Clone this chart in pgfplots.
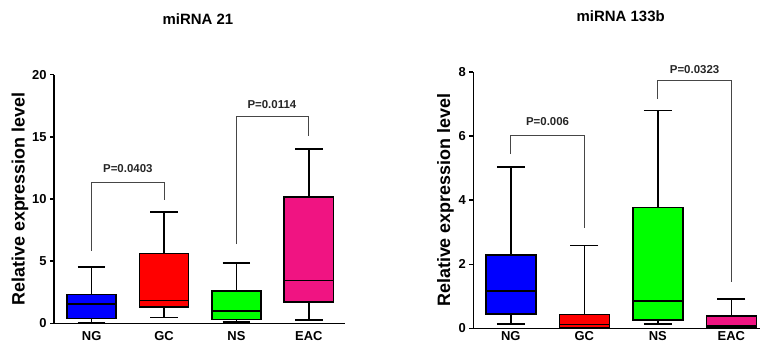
\documentclass[border=0pt]{standalone}
\usepackage{fontspec}
\setmainfont{Liberation Sans}
\usepackage{pgfplots}
\pgfplotsset{compat=1.18}
\usepgfplotslibrary{statistics}
\definecolor{cNG}{RGB}{0,0,255}
\definecolor{cGC}{RGB}{255,0,0}
\definecolor{cNS}{RGB}{0,255,0}
\definecolor{cEAC}{RGB}{240,20,130}
\definecolor{brk}{RGB}{70,70,70}
\tikzset{
  bx/.style={draw=black, line width=1.6bp, fill=#1, solid},
  br/.style={brk, line width=0.8bp},
  pl/.style={font=\fontsize{11.5}{11.5}\selectfont\bfseries, text=black!85},
}
\pgfplotsset{
  mybox/.style={
    scale only axis,
    axis x line*=bottom, axis y line*=left,
    axis line style={line width=1.6bp,-},
    xtick={0,1,2,3}, xticklabels={NG,GC,NS,EAC},
    x tick style={draw=none},
    y tick style={line width=1.4bp,black},
    tick align=outside, major tick length=4bp,
    ticklabel style={font=\fontsize{13}{13}\selectfont\bfseries},
    /pgf/number format/assume math mode=true,
    ymin=0, clip=false,
    boxplot/draw direction=y,
    boxplot/box extend=0.68,
    boxplot/whisker extend=0.38,
    ylabel={Relative expression level},
    ylabel style={font=\fontsize{18}{18}\selectfont\bfseries, anchor=center},
  },
}
\begin{document}
\begin{tikzpicture}
\path[use as bounding box] (0,0) rectangle (760bp,-352bp);
\node[font=\fontsize{15}{15}\selectfont\bfseries] at (198bp,-19bp) {miRNA 21};
\node[font=\fontsize{15}{15}\selectfont\bfseries] at (620.7bp,-15.7bp) {miRNA 133b};
% left
\begin{axis}[mybox, at={(54bp,-323.3bp)}, anchor=south west,
  width=291bp, height=248.6bp, xmin=-0.52, xmax=3.5, ymax=20,
  ytick={0,5,10,15,20},
  ylabel style={at={(axis description cs:-0.117,0.5)}},
  xticklabel style={yshift=-1bp}]
\addplot[bx=cNG, boxplot prepared={lower whisker=0.05, lower quartile=0.4, median=1.53, upper quartile=2.33, upper whisker=4.55, draw position=0}] coordinates {};
\addplot[bx=cGC, boxplot prepared={lower whisker=0.48, lower quartile=1.31, median=1.82, upper quartile=5.63, upper whisker=8.95, draw position=1}] coordinates {};
\addplot[bx=cNS, boxplot prepared={lower whisker=0.1, lower quartile=0.32, median=1.01, upper quartile=2.62, upper whisker=4.83, draw position=2}] coordinates {};
\addplot[bx=cEAC, boxplot prepared={lower whisker=0.27, lower quartile=1.69, median=3.43, upper quartile=10.14, upper whisker=14.02, draw position=3}] coordinates {};
\addplot[br] coordinates {(0,5.84) (0,11.3) (1,11.3) (1,9.92)};
\addplot[br] coordinates {(2,6.36) (2,16.68) (3,16.68) (3,15.1)};
\node[pl] at (axis cs:0.5,12.41) {P=0.0403};
\node[pl] at (axis cs:2.49,17.56) {P=0.0114};
\end{axis}
% right
\begin{axis}[mybox, at={(473.3bp,-328.3bp)}, anchor=south west,
  width=286.7bp, height=256.3bp, xmin=-0.51, xmax=3.39, ymax=8,
  ytick={0,2,4,6,8},
  ylabel style={at={(axis description cs:-0.097,0.5)}},
  xticklabel style={yshift=4bp}]
\addplot[bx=cNG, boxplot prepared={lower whisker=0.135, lower quartile=0.45, median=1.16, upper quartile=2.28, upper whisker=5.03, draw position=0}] coordinates {};
\addplot[bx=cGC, boxplot prepared={lower whisker=0.0, lower quartile=0.03, median=0.12, upper quartile=0.43, upper whisker=2.58, draw position=1}] coordinates {};
\addplot[bx=cNS, boxplot prepared={lower whisker=0.135, lower quartile=0.25, median=0.85, upper quartile=3.77, upper whisker=6.8, draw position=2}] coordinates {};
\addplot[bx=cEAC, boxplot prepared={lower whisker=0.0, lower quartile=0.03, median=0.08, upper quartile=0.38, upper whisker=0.91, draw position=3}] coordinates {};
\addplot[br] coordinates {(0,5.44) (0,6.01) (1,6.01) (1,3.14)};
\addplot[br] coordinates {(2,7.16) (2,7.74) (3,7.74) (3,1.45)};
\node[pl] at (axis cs:0.5,6.45) {P=0.006};
\node[pl] at (axis cs:2.5,8.09) {P=0.0323};
\end{axis}
\end{tikzpicture}
\end{document}
